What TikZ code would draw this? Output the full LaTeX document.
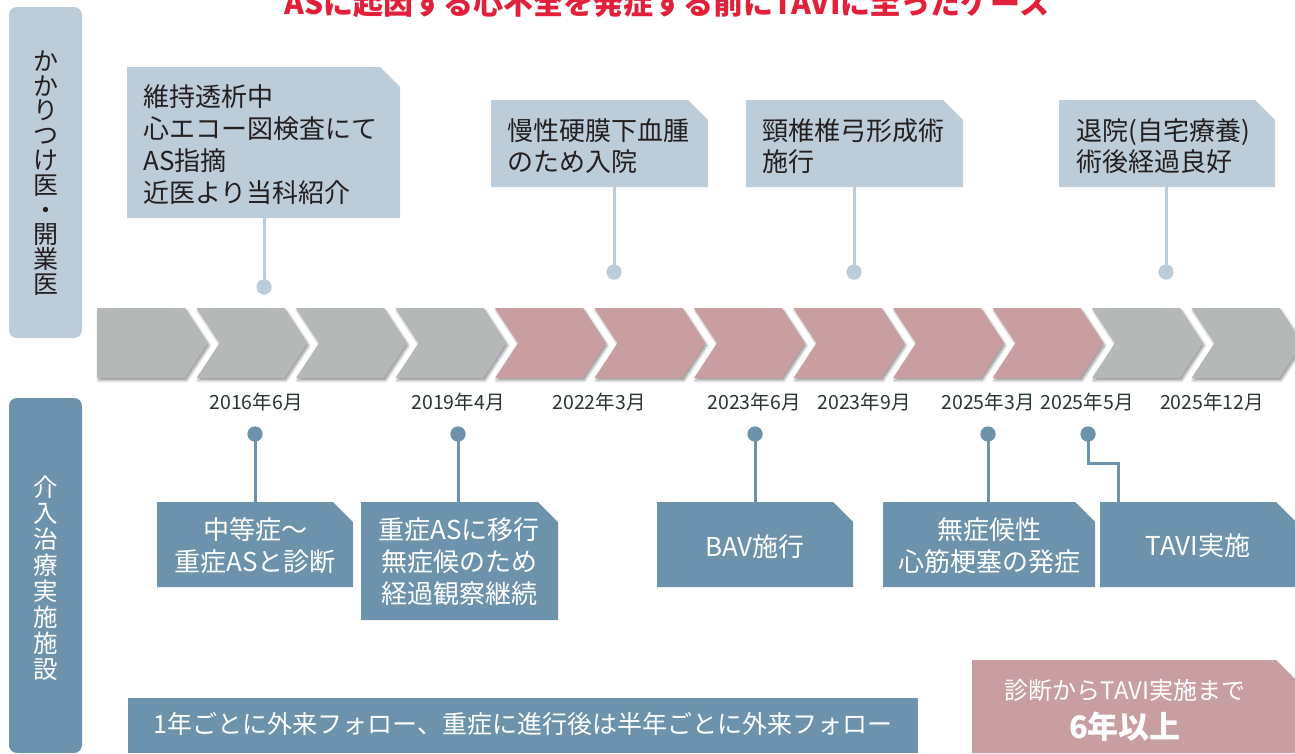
\documentclass[tikz,border=0pt]{standalone}
\usepackage{fontspec}
\setmainfont{Noto Sans CJK JP}
\usetikzlibrary{shadows.blur}
\definecolor{lb}{RGB}{188,204,216}
\definecolor{db}{RGB}{108,147,171}
\definecolor{chgray}{RGB}{180,184,183}
\definecolor{chpink}{RGB}{200,158,161}
\definecolor{titlered}{RGB}{226,32,58}
\definecolor{txt}{RGB}{35,31,32}
\definecolor{datec}{RGB}{40,52,58}
\newcommand\cutbox[5]{\fill[#1] (#2,#3) -- ({#4-20},#3) -- (#4,{#3+20}) -- (#4,#5) -- (#2,#5) -- cycle;}
\begin{document}
\begin{tikzpicture}[x=1pt,y=-1pt,
  ttext/.style={font=\fontsize{26}{32}\selectfont, text=txt, align=left, inner sep=0pt, anchor=west},
  btext/.style={font=\fontsize{26}{32}\selectfont, text=white, align=center, inner sep=0pt},
  datelab/.style={font=\fontsize{19.5}{20}\selectfont, text=datec, inner sep=0pt},
  dotT/.style={circle, fill=lb, minimum size=15pt, inner sep=0pt},
  dotB/.style={circle, fill=db, minimum size=15pt, inner sep=0pt},
  tline/.style={draw=lb, line width=3pt},
  bline/.style={draw=db, line width=3pt},
  chshadow/.style={blur shadow={shadow xshift=1.5pt, shadow yshift=-2.5pt, shadow blur radius=2.5pt, shadow opacity=40}},
  vtext/.style={align=center, inner sep=0pt}
]
\useasboundingbox (0,0) rectangle (1295,753);

% title
\node[font=\bfseries\fontsize{30}{30}\selectfont, text=titlered, anchor=base] (title) at (667,14) {ASに起因する心不全を発症する前にTAVIに至ったケース};

% side bars
\fill[lb, rounded corners=8pt] (9,7) rectangle (82,338);
\node[vtext, text=txt, font=\fontsize{25}{24.8}\selectfont] (sideT) at (45.5,173) {か\\か\\り\\つ\\け\\医\\・\\開\\業\\医};
\fill[db, rounded corners=8pt] (9,398) rectangle (82,753);
\node[vtext, text=white, font=\fontsize{24.5}{26}\selectfont] (sideB) at (45.5,578) {介\\入\\治\\療\\実\\施\\施\\設};

% chevrons
\fill[chgray, chshadow] (97,308) -- (185,308) -- (208,343) -- (185,378) -- (97,378) -- cycle;
\foreach \i/\c in {1/chgray,2/chgray,3/chgray,4/chpink,5/chpink,6/chpink,7/chpink,8/chpink,9/chpink,10/chgray,11/chgray}{
  \pgfmathsetmacro\s{97+99.5*\i}
  \fill[\c, chshadow] (\s,308) -- ({\s+88},308) -- ({\s+111},343) -- ({\s+88},378) -- (\s,378) -- ({\s+23},343) -- cycle;
}

% dates
\node[datelab] (t1) at (256,402) {2016年6月};
\node[datelab] (t2) at (458,402) {2019年4月};
\node[datelab] (t3) at (599,402) {2022年3月};
\node[datelab] (t4) at (754,402) {2023年6月};
\node[datelab] (t5) at (864,402) {2023年9月};
\node[datelab] (t6) at (988,402) {2025年3月};
\node[datelab] (t7) at (1087,402) {2025年5月};
\node[datelab] (t8) at (1212,402) {2025年12月};

% top boxes
\cutbox{lb}{127}{67}{400}{218}
\cutbox{lb}{491}{100}{708}{187}
\cutbox{lb}{746}{100}{963}{187}
\cutbox{lb}{1059}{100}{1275}{187}
\node[ttext] (tb1) at (143,145) {維持透析中\\心エコー図検査にて\\AS指摘\\近医より当科紹介};
\node[ttext, font=\fontsize{26}{31}\selectfont] (tb2) at (507,146) {慢性硬膜下血腫\\のため入院};
\node[ttext, font=\fontsize{26}{31}\selectfont] (tb3) at (762,146) {頸椎椎弓形成術\\施行};
\node[ttext, font=\fontsize{26}{31}\selectfont] (tb4) at (1076,146) {退院(自宅療養)\\術後経過良好};

\coordinate (tb1s) at (264,218);
\coordinate (tb2s) at (614,187);
\coordinate (tb3s) at (854,187);
\coordinate (tb4s) at (1166,187);
\node[dotT] (td1) at (264,287) {};
\node[dotT] (td2) at (614,272) {};
\node[dotT] (td3) at (854,272) {};
\node[dotT] (td4) at (1166,272) {};
\draw[tline] (tb1s) -- (td1.center);
\draw[tline] (tb2s) -- (td2.center);
\draw[tline] (tb3s) -- (td3.center);
\draw[tline] (tb4s) -- (td4.center);
\node[dotT] at (td1) {};
\node[dotT] at (td2) {};
\node[dotT] at (td3) {};
\node[dotT] at (td4) {};

% bottom boxes
\cutbox{db}{157}{502}{353}{587}
\cutbox{db}{361}{502}{558}{620}
\cutbox{db}{657}{502}{853}{587}
\cutbox{db}{883}{502}{1095}{587}
\cutbox{db}{1100}{502}{1296}{587}
\node[btext] (bb1) at (255,546) {中等症〜\\重症ASと診断};
\node[btext] (bb2) at (459,562) {重症ASに移行\\無症候のため\\経過観察継続};
\node[btext] (bb3) at (755,547) {BAV施行};
\node[btext] (bb4) at (989,546) {無症候性\\心筋梗塞の発症};
\node[btext] (bb5) at (1198,546) {TAVI実施};

\coordinate (bb1t) at (255,502);
\coordinate (bb2t) at (458,502);
\coordinate (bb3t) at (755,502);
\coordinate (bb4t) at (988,502);
\coordinate (bb5t) at (1118,502);
\node[dotB] (bd1) at (255,434) {};
\node[dotB] (bd2) at (458,434) {};
\node[dotB] (bd3) at (755,434) {};
\node[dotB] (bd4) at (988,434) {};
\node[dotB] (bd5) at (1088,434) {};
\draw[bline] (bd1.center) -- (bb1t);
\draw[bline] (bd2.center) -- (bb2t);
\draw[bline] (bd3.center) -- (bb3t);
\draw[bline] (bd4.center) -- (bb4t);
\draw[bline] (bd5.center) -- ++(0,29) -| (bb5t);
\node[dotB] at (bd1) {};
\node[dotB] at (bd2) {};
\node[dotB] at (bd3) {};
\node[dotB] at (bd4) {};
\node[dotB] at (bd5) {};

% bottom bar
\fill[db] (128,698) rectangle (918,753);
\node[btext, font=\fontsize{25}{30}\selectfont] (follow) at (523,724) {1年ごとに外来フォロー、重症に進行後は半年ごとに外来フォロー};

% pink result box
\cutbox{chpink}{972}{660}{1296}{753}
\node[btext, font=\fontsize{24}{28}\selectfont] (res1) at (1125,690) {診断からTAVI実施まで};
\node[btext, font=\bfseries\fontsize{31}{34}\selectfont] (res2) at (1125,727) {6年以上};
\end{tikzpicture}
\end{document}
